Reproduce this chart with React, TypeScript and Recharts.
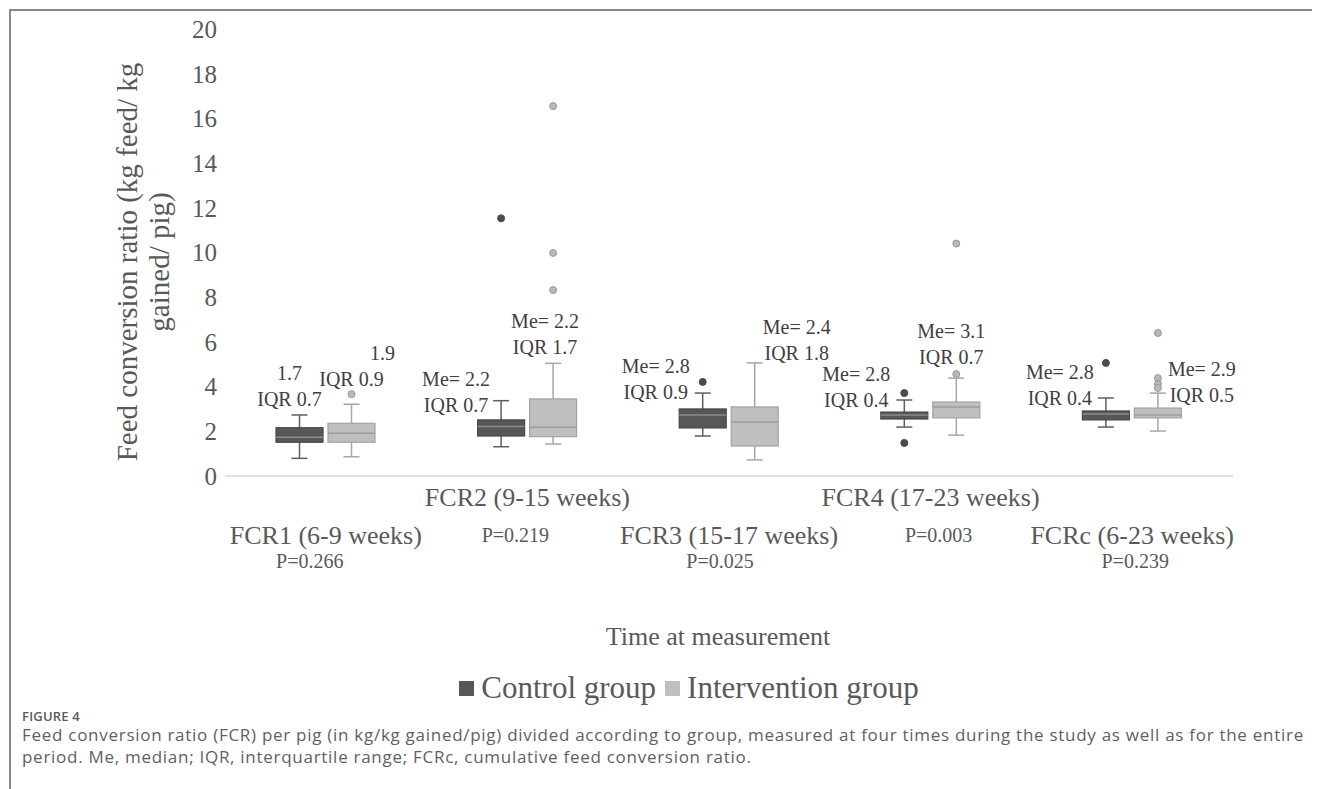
import React from 'react';
import { ComposedChart, Bar, XAxis, YAxis, Legend } from 'recharts';

const categories = ['FCR1 (6-9 weeks)', 'FCR2 (9-15 weeks)', 'FCR3 (15-17 weeks)', 'FCR4 (17-23 weeks)', 'FCRc (6-23 weeks)'];
const pValues = ['P=0.266', 'P=0.219', 'P=0.025', 'P=0.003', 'P=0.239'];
const yTicks = [0, 2, 4, 6, 8, 10, 12, 14, 16, 18, 20];

const controlMin = [0.79, 1.31, 1.79, 2.19, 2.19];
const controlQ1 = [1.51, 1.79, 2.15, 2.55, 2.51];
const controlMedian = [1.73, 2.21, 2.73, 2.73, 2.77];
const controlQ3 = [2.16, 2.51, 3.0, 2.86, 2.91];
const controlMax = [2.73, 3.37, 3.71, 3.4, 3.49];
const controlOutliers = [[], [11.53], [4.21], [3.71, 1.48], [5.06]];
const controlNotes = [['1.7', 'IQR 0.7'], ['Me= 2.2', 'IQR 0.7'], ['Me= 2.8', 'IQR 0.9'], ['Me= 2.8', 'IQR 0.4'], ['Me= 2.8', 'IQR 0.4']];

const interventionMin = [0.86, 1.43, 0.72, 1.83, 2.01];
const interventionQ1 = [1.51, 1.76, 1.34, 2.6, 2.6];
const interventionMedian = [1.91, 2.18, 2.42, 3.09, 2.73];
const interventionQ3 = [2.36, 3.45, 3.09, 3.31, 3.04];
const interventionMax = [3.21, 5.04, 5.06, 4.38, 3.71];
const interventionOutliers = [[3.66], [16.55, 9.98, 8.32], [], [10.4, 4.56], [6.4, 4.38, 4.12, 3.94]];
const interventionNotes = [['1.9', 'IQR 0.9'], ['Me= 2.2', 'IQR 1.7'], ['Me= 2.4', 'IQR 1.8'], ['Me= 3.1', 'IQR 0.7'], ['Me= 2.9', 'IQR 0.5']];

// note block placement (dx from box centre, dy of 2nd line from whisker top, first-line dx shift)
const controlNotePlace = [[-10, -16, 0], [-45, 4, 0], [-47, -1, 0], [-48, 0, 0], [-46, 0, 0]];
const interventionNotePlace = [[0, -25, 31], [-8, -16, 0], [42, -10, 0], [-5, -21, 0], [44, 2, 0]];
const pShift = [-16, -12, -9, 8, 3];

const rows = categories.map((name, i) => ({
  name,
  cMin: controlMin[i], cQ1: controlQ1[i], cMed: controlMedian[i], cQ3: controlQ3[i], cMax: controlMax[i], cOut: controlOutliers[i],
  iMin: interventionMin[i], iQ1: interventionQ1[i], iMed: interventionMedian[i], iQ3: interventionQ3[i], iMax: interventionMax[i], iOut: interventionOutliers[i],
}));

const SERIF = '"Liberation Serif", "Times New Roman", serif';

const groupStyle: any = {
  c: { fill: '#575757', stroke: '#474747', median: '#8a8a8a', whisker: '#5e5e5e', dot: '#4a4a4a', dotStroke: '#4a4a4a', notes: controlNotes, place: controlNotePlace },
  i: { fill: '#bfbfbf', stroke: '#a3a3a3', median: '#9c9c9c', whisker: '#a6a6a6', dot: '#b8b8b8', dotStroke: '#9a9a9a', notes: interventionNotes, place: interventionNotePlace },
};

const makeBoxShape = (g: 'c' | 'i') => (props: any) => {
  const { x, y, width, height, payload, index } = props;
  const st = groupStyle[g];
  const max = payload[g + 'Max'];
  const min = payload[g + 'Min'];
  const q1 = payload[g + 'Q1'];
  const q3 = payload[g + 'Q3'];
  const med = payload[g + 'Med'];
  const outs: number[] = payload[g + 'Out'];
  const k = height / max;
  const base = y + height;
  const Y = (v: number) => base - v * k;
  const cx = x + width / 2;
  const cap = 8;
  const notes = st.notes[index];
  const pl = st.place[index];
  const tx = cx + pl[0];
  const ty2 = Y(max) + pl[1];
  return (
    <g>
      <line x1={cx} x2={cx} y1={Y(max)} y2={Y(q3)} stroke={st.whisker} strokeWidth={1.5} />
      <line x1={cx} x2={cx} y1={Y(q1)} y2={Y(min)} stroke={st.whisker} strokeWidth={1.5} />
      <line x1={cx - cap} x2={cx + cap} y1={Y(max)} y2={Y(max)} stroke={st.whisker} strokeWidth={1.5} />
      <line x1={cx - cap} x2={cx + cap} y1={Y(min)} y2={Y(min)} stroke={st.whisker} strokeWidth={1.5} />
      <rect x={x} y={Y(q3)} width={width} height={Y(q1) - Y(q3)} fill={st.fill} stroke={st.stroke} strokeWidth={1.2} />
      <line x1={x} x2={x + width} y1={Y(med)} y2={Y(med)} stroke={st.median} strokeWidth={1.5} />
      {outs.map((v, j) => (
        <circle key={j} cx={cx} cy={Y(v)} r={3.5} fill={st.dot} stroke={st.dotStroke} strokeWidth={1} />
      ))}
      <text x={tx + pl[2]} y={ty2 - 26} textAnchor="middle" dominantBaseline="central" fontFamily={SERIF} fontSize={20} fill="#404040">{notes[0]}</text>
      <text x={tx} y={ty2} textAnchor="middle" dominantBaseline="central" fontFamily={SERIF} fontSize={20} fill="#404040">{notes[1]}</text>
    </g>
  );
};

const CategoryTick = (props: any) => {
  const { x, y, payload, index } = props;
  const upper = index % 2 === 1;
  const labelY = y + (upper ? 21 : 59);
  const pY = y + (upper ? 59 : 85);
  return (
    <g>
      <text x={x} y={labelY} textAnchor="middle" dominantBaseline="central" fontFamily={SERIF} fontSize={26} fill="#595959">{payload.value}</text>
      <text x={x + pShift[index]} y={pY} textAnchor="middle" dominantBaseline="central" fontFamily={SERIF} fontSize={20} fill="#595959">{pValues[index]}</text>
    </g>
  );
};

const YTitle = () => (
  <g fontFamily={SERIF} fontSize={29} fill="#595959">
    <text x={129} y={254} transform="rotate(-90 129 254)" textAnchor="middle">Feed conversion ratio (kg feed/ kg</text>
    <text x={161} y={254} transform="rotate(-90 161 254)" textAnchor="middle">gained/ pig)</text>
  </g>
);

const XTitle = () => (
  <text x={710} y={628} textAnchor="middle" dominantBaseline="central" fontFamily={SERIF} fontSize={26} fill="#595959">Time at measurement</text>
);

const LegendContent = () => (
  <div style={{ width: 1312, height: 30, display: 'flex', justifyContent: 'center', alignItems: 'center', paddingLeft: 50, boxSizing: 'border-box', fontFamily: SERIF, fontSize: 31, color: '#595959', whiteSpace: 'nowrap' }}>
    <span style={{ display: 'inline-block', width: 15, height: 15, background: '#575757', marginRight: 7 }} />
    <span style={{ marginRight: 9 }}>Control group</span>
    <span style={{ display: 'inline-block', width: 15, height: 15, background: '#bfbfbf', marginRight: 7 }} />
    <span>Intervention group</span>
  </div>
);

export default function App() {
  return (
    <div style={{ position: 'relative', width: 1312, height: 781, background: '#fff', overflow: 'hidden' }}>
      <div style={{ position: 'absolute', left: 1, top: 1, width: 1311, height: 2, background: '#8a8a8a' }} />
      <div style={{ position: 'absolute', left: 1, top: 1, width: 2, height: 780, background: '#8a8a8a' }} />
      <div style={{ position: 'absolute', left: 0, top: 0 }}>
        <ComposedChart width={1312} height={700} data={rows} barGap={5} margin={{ top: 21, right: 87, left: 157, bottom: 5 }}>
          <XAxis dataKey="name" interval={0} height={197} axisLine={{ stroke: '#d9d9d9', strokeWidth: 1.5 }} tickLine={false} tickSize={0} tickMargin={0} tick={<CategoryTick />} label={<XTitle />} />
          <YAxis type="number" domain={[0, 20]} ticks={yTicks} width={60} axisLine={false} tickLine={false} tick={{ fontFamily: SERIF, fontSize: 25, fill: '#595959' }} label={<YTitle />} />
          <Legend verticalAlign="bottom" height={30} wrapperStyle={{ left: 0, width: 1312 }} content={<LegendContent />} />
          <Bar dataKey="cMax" name="Control group" barSize={47} fill="#575757" isAnimationActive={false} shape={makeBoxShape('c')} />
          <Bar dataKey="iMax" name="Intervention group" barSize={47} fill="#bfbfbf" isAnimationActive={false} shape={makeBoxShape('i')} />
        </ComposedChart>
      </div>
      <div style={{ position: 'absolute', left: 14, top: 701, height: 14, lineHeight: '14px', fontFamily: '"Open Sans", sans-serif', fontSize: 13, fontWeight: 600, color: '#5a5a5a', letterSpacing: 0.2 }}>FIGURE 4</div>
      <div style={{ position: 'absolute', left: 14, top: 716, fontFamily: '"Open Sans", sans-serif', fontSize: 17, lineHeight: '22px', color: '#5f5f5f', whiteSpace: 'nowrap', letterSpacing: 0.72 }}>
        <div>Feed conversion ratio (FCR) per pig (in kg/kg gained/pig) divided according to group, measured at four times during the study as well as for the entire</div>
        <div>period. Me, median; IQR, interquartile range; FCRc, cumulative feed conversion ratio.</div>
      </div>
    </div>
  );
}
